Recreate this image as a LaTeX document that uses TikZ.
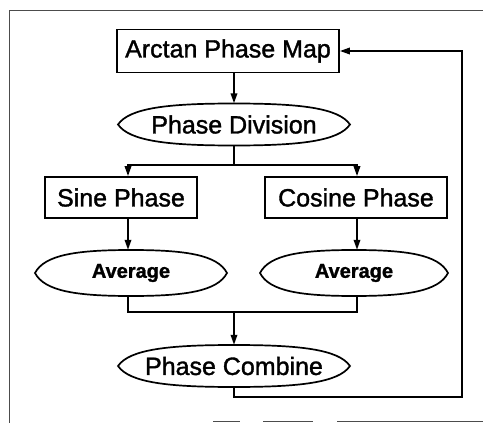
\documentclass[tikz,border=0pt]{standalone}
\usepackage{fontspec}
\setmainfont{Liberation Sans}
\newfontfamily\labelfont{Liberation Sans}[FakeBold=1.4]
\usetikzlibrary{arrows.meta}

% Label node plus a lens-shaped outline: name, centre x, centre y, width, height, text
\newcommand\lensnode[6]{%
  \node[lenstext,minimum width=#4pt,minimum height=#5pt] (#1) at (#2,#3) {#6};
  \draw[lensline]
    ({#2-#4/2},#3)
      .. controls ({#2-0.45*#4},{#3-0.40*#5}) and ({#2-0.28*#4},{#3-#5/2}) .. (#2,{#3-#5/2})
      .. controls ({#2+0.28*#4},{#3-#5/2}) and ({#2+0.45*#4},{#3-0.40*#5}) .. ({#2+#4/2},#3)
      .. controls ({#2+0.45*#4},{#3+0.40*#5}) and ({#2+0.28*#4},{#3+#5/2}) .. (#2,{#3+#5/2})
      .. controls ({#2-0.28*#4},{#3+#5/2}) and ({#2-0.45*#4},{#3+0.40*#5}) .. cycle;
}

\begin{document}
\begin{tikzpicture}[x=1pt,y=-1pt,
  flow/.style={line width=1.8pt},
  arr/.style={flow,-{Triangle[length=10pt,width=6.5pt]}},
  procbox/.style={draw,line width=1.7pt,inner sep=0pt,font=\labelfont\fontsize{25}{30}\selectfont},
  lenstext/.style={inner sep=0pt,font=\labelfont\fontsize{25}{30}\selectfont},
  lensline/.style={line width=1.7pt},
  frameline/.style={line width=0.8pt,black!70}]
\useasboundingbox (0,0) rectangle (483,423);

% page frame
\draw[frameline] (9,423) -- (9,10) -- (483,10);
\draw[frameline] (213,421) -- (240,421);
\draw[frameline] (263,421) -- (313,421);
\draw[frameline] (337,421) -- (483,421);

% blocks
\node[procbox,minimum width=222pt,minimum height=43pt] (amap) at (228,51) {Arctan Phase Map};
\lensnode{pdiv}{234}{124.5}{232}{42}{Phase Division}
\node[procbox,minimum width=152pt,minimum height=41pt] (sine) at (121,197.5) {Sine Phase};
\node[procbox,minimum width=182pt,minimum height=41pt] (cosine) at (356,197.5) {Cosine Phase};
\lensnode{avgL}{131}{273}{192}{46}{\bfseries\fontsize{20}{24}\selectfont Average}
\lensnode{avgR}{354}{273}{188}{46}{\bfseries\fontsize{20}{24}\selectfont Average}
\lensnode{pcomb}{234}{366}{232}{42}{Phase Combine}

% column guides for the two branches and the feedback line
\coordinate (colL) at (128,0);
\coordinate (colR) at (357,0);
\coordinate (fbx) at (462,0);

% connectors
\draw[arr] (pdiv.north |- amap.south) -- (pdiv.north);
\draw[flow] (pdiv.south) -- ++(0,19) coordinate (split);
\draw[arr] (split) -| (colL |- sine.north);
\draw[arr] (split) -| (colR |- cosine.north);
\draw[arr] (colL |- sine.south) -- (colL |- avgL.north);
\draw[arr] (colR |- cosine.south) -- (colR |- avgR.north);
\draw[flow] (colL |- avgL.south) -- ++(0,16) coordinate (mL) -- (colR |- mL) -- (colR |- avgR.south);
\coordinate (merge) at (pcomb.north |- mL);
\draw[arr] (merge) -- (pcomb.north);
\draw[arr] (pcomb.south) -- ++(0,10) -| (fbx |- amap.east) -- (amap.east);
\end{tikzpicture}
\end{document}
